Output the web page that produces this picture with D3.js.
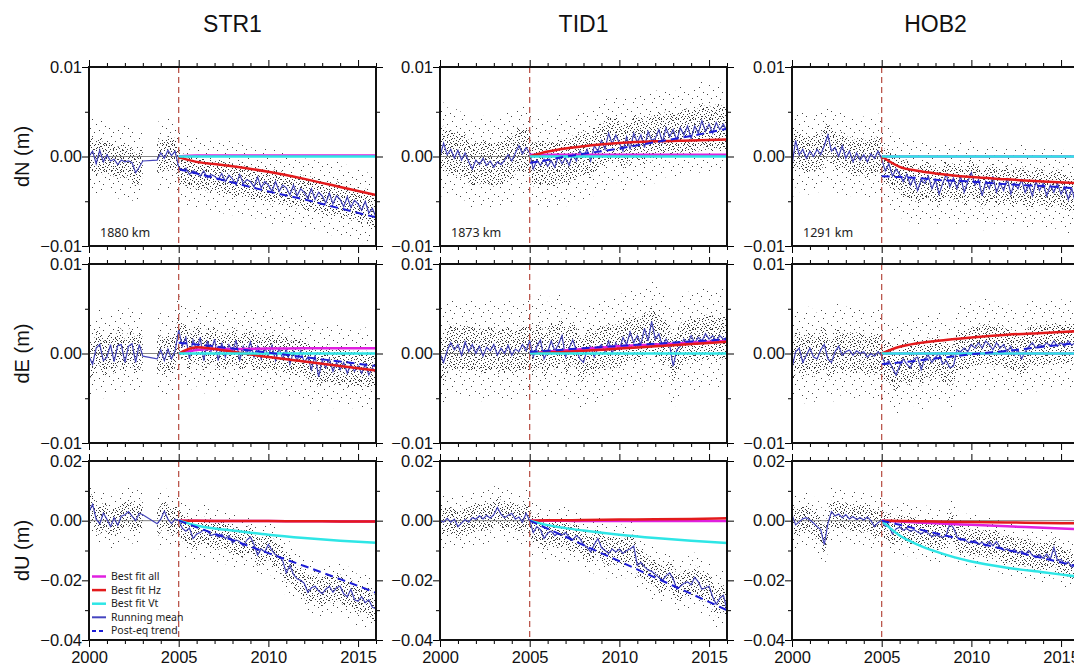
<!DOCTYPE html>
<html>
<head>
<meta charset="utf-8">
<script src="https://cdn.jsdelivr.net/npm/d3@7"></script>
<style>
body { margin: 0; background: #fff; }
svg { display: block; font-family: "Liberation Sans", Arial, sans-serif; }
</style>
</head>
<body>
<div id="chart"></div>
<script>
// ---- data (displacements in mm, shown in m) ----
const stations = ["STR1", "TID1", "HOB2"];
const components = ["dN (m)", "dE (m)", "dU (m)"];
const distances = ["1880 km", "1873 km", "1291 km"];
const yDomains = [[-10, 10], [-10, 10], [-40, 20]];
const yMajor = [[-10, 0, 10], [-10, 0, 10], [-40, -20, 0, 20]];
const yMinor = [[-5, 5], [-5, 5], [-30, -10, 10]];
const xMajor = [2000, 2005, 2010, 2015];
const xMinor = [2001, 2002, 2003, 2004, 2006, 2007, 2008, 2009, 2011, 2012, 2013, 2014, 2016];
const quakeYear = 2005;

const meanYears = [
  2000, 2000.2, 2000.4, 2000.6, 2000.8, 2001, 2001.2, 2001.4, 2001.6, 2001.8,
  2002, 2002.2, 2002.4, 2002.6, 2002.8, 2003, 2003.2, 2003.4, 2003.6, 2003.8,
  2004, 2004.2, 2004.4, 2004.6, 2004.8, 2005, 2005.2, 2005.4, 2005.6, 2005.8,
  2006, 2006.2, 2006.4, 2006.6, 2006.8, 2007, 2007.2, 2007.4, 2007.6, 2007.8,
  2008, 2008.2, 2008.4, 2008.6, 2008.8, 2009, 2009.2, 2009.4, 2009.6, 2009.8,
  2010, 2010.2, 2010.4, 2010.6, 2010.8, 2011, 2011.2, 2011.4, 2011.6, 2011.8,
  2012, 2012.2, 2012.4, 2012.6, 2012.8, 2013, 2013.2, 2013.4, 2013.6, 2013.8,
  2014, 2014.2, 2014.4, 2014.6, 2014.8, 2015, 2015.2, 2015.4, 2015.6, 2015.8,
  2016];

// running means (null = no data)
const meanSTR1_dN = [
  0.0, 0.6, -0.8, 0.7, -0.6,   0.2, -0.5, -0.3, -0.9, -0.4,   -0.6, -0.5, -0.7, -1.8, -1.2,
  -0.5, null, null, null, -0.4,   0.4, -0.2, 0.7, 0.1, 0.6,   -1.2, -1.6, -1.3, -2.0, -1.6,
  -1.8, -2.2, -1.6, -2.4, -2.0,   -2.2, -2.6, -1.9, -2.8, -2.1,   -2.5, -3.2, -2.0, -3.0, -2.6,
  -2.8, -3.4, -2.3, -3.5, -2.8,   -3.2, -3.9, -2.8, -3.9, -3.2,   -3.5, -4.3, -3.2, -4.4, -3.6,
  -4.0, -4.7, -3.6, -4.8, -4.0,   -4.4, -5.2, -4.1, -5.3, -4.4,   -4.8, -5.6, -4.5, -5.7, -4.9,
  -5.3, -6.0, -5.0, -6.3, -5.8,   -6.8];
const meanSTR1_dE = [
  -0.3, -1.2, 0.6, 1.0, -0.8,   -0.4, 1.0, -0.9, 0.9, 1.0,   -1.0, 0.8, 1.1, -1.0, 1.0,
  -0.3, null, null, null, -0.6,   0.4, -0.8, 0.5, -0.6, 0.3,   2.6, 0.8, 1.8, -0.6, 1.5,
  0.4, 1.8, -0.8, 1.4, 0.2,   1.6, -0.8, 1.2, -0.4, 1.0,   0.2, 1.5, -0.8, 0.8, 0.0,
  1.3, -0.4, 0.8, -0.6, 0.6,   -0.2, 0.9, -0.8, 0.6, -0.6,   0.5, -1.2, 0.2, -0.8, 0.3,
  -1.0, -0.4, -1.8, -0.2, -2.6,   -0.8, -1.6, -0.6, -2.0, -1.0,   -1.8, -1.0, -2.2, -1.2, -2.0,
  -1.4, -2.2, -1.2, -2.4, -1.6,   -2.2];
const meanSTR1_dU = [
  3.0, 5.5, 0.5, -1.0, 2.5,   0.5, -2.0, 1.0, -1.5, 1.5,   2.0, 3.0, 1.5, 0.0, 2.5,
  2.0, null, null, null, -1.0,   0.5, 3.2, 0.5, -1.0, 0.5,   0.0, -2.5, -3.5, -2.5, -6.0,
  -4.5, -4.0, -3.0, -3.5, -5.0,   -4.5, -5.5, -4.5, -6.0, -5.0,   -7.5, -6.5, -7.0, -8.5, -6.5,
  -5.5, -8.0, -11.5, -9.5, -10.5,   -8.0, -10.0, -11.5, -12.0, -13.5,   -17.5, -15.0, -18.0, -19.5, -20.0,
  -21.0, -24.0, -22.5, -22.0, -23.5,   -24.5, -23.0, -22.0, -24.0, -22.5,   -22.0, -24.5, -25.5, -23.0, -26.5,
  -27.0, -25.5, -27.5, -26.5, -29.0,   -29.5];
const meanTID1_dN = [
  0.0, 1.5, 0.2, 0.8, -0.2,   0.7, -0.4, 0.4, -0.6, -1.4,   -0.4, -0.9, -0.2, -1.0, -0.5,
  -1.2, -0.6, -0.9, -0.4, 0.2,   -0.5, 0.4, 1.2, 0.3, 1.0,   0.4, -1.4, -0.4, -1.0, -0.3,
  -1.1, -0.5, -1.2, 0.0, -0.8,   -0.2, -1.0, 0.3, -0.5, 0.6,   0.0, 0.8, -0.5, 1.2, 0.6,
  1.8, 0.8, 2.6, 1.4, 2.4,   1.5, 0.6, 2.2, 0.8, 2.6,   1.6, 2.4, 1.0, 2.8, 1.8,
  2.0, 3.0, 1.6, 3.2, 2.2,   3.0, 1.8, 3.2, 2.4, 3.4,   2.0, 3.4, 2.6, 4.0, 2.8,
  3.6, 2.6, 3.8, 3.0, 3.6,   2.8];
const meanTID1_dE = [
  0.0, -1.0, 0.3, 1.2, 0.4,   1.0, -0.2, 1.3, 0.2, 1.0,   0.0, 0.8, -0.3, 0.7, 0.3,
  1.0, -0.2, 0.6, 0.0, 0.9,   -0.2, 0.5, 0.2, 1.0, 0.3,   1.4, -0.4, 0.8, 1.5, -0.6,
  0.2, 1.4, 0.3, 1.0, 2.0,   -0.4, 0.6, 1.5, 0.4, -0.6,   -1.0, 0.4, 0.8, -0.4, 0.6,
  1.0, 0.2, 1.4, 0.0, 1.2,   0.4, 1.8, 1.0, 2.4, 1.2,   2.0, 1.0, 2.8, 1.4, 3.6,
  1.6, 2.2, 0.8, 1.6, 1.0,   -1.4, 0.4, 0.8, 1.6, 1.0,   2.0, 1.2, 1.8, 1.4, 2.2,
  1.6, 2.0, 1.4, 2.0, 1.6,   1.8];
const meanTID1_dU = [
  0.0, -0.5, 0.8, -0.5, 0.5,   -2.0, -0.8, 0.4, -0.5, 1.0,   0.5, 1.6, 0.6, 1.8, 0.8,
  2.0, 4.4, 2.2, 1.0, 1.8,   2.5, 0.5, 1.2, -0.5, 2.5,   0.0, -4.0, -2.0, -3.0, -6.0,
  -4.2, -3.5, -5.0, -4.2, -4.8,   -4.0, -5.5, -6.5, -5.0, -6.0,   -8.0, -9.0, -10.5, -8.0, -6.0,
  -9.0, -10.0, -11.0, -9.5, -10.5,   -9.5, -11.0, -10.0, -9.5, -8.5,   -15.0, -14.0, -15.5, -16.5, -17.0,
  -18.0, -19.0, -20.0, -18.5, -17.5,   -19.5, -23.0, -22.0, -21.0, -20.5,   -21.5, -19.0, -20.5, -23.0, -22.5,
  -22.0, -25.5, -28.0, -26.0, -25.0,   -30.0];
const meanHOB2_dN = [
  -1.0, 1.8, 0.2, 0.8, -0.2,   0.6, 0.0, 0.8, 0.2, 1.2,   2.4, 0.6, 1.0, 0.0, 1.2,
  -0.2, 0.6, -0.6, 0.4, -0.4,   0.2, -0.6, 0.3, -0.2, 0.6,   -0.3, -1.6, -0.8, -2.2, -1.4,
  -2.0, -2.8, -2.0, -3.2, -2.4,   -3.8, -2.6, -3.0, -2.2, -3.6,   -2.6, -4.2, -3.0, -2.0, -3.4,
  -2.4, -3.6, -2.2, -4.0, -2.8,   -1.8, -3.2, -2.6, -4.4, -2.8,   -3.6, -2.2, -4.0, -3.0, -3.8,
  -2.4, -4.2, -3.0, -3.6, -2.6,   -4.0, -3.2, -4.4, -2.8, -3.8,   -3.0, -4.4, -3.2, -4.0, -3.0,
  -4.2, -3.4, -4.8, -3.6, -5.2,   -6.6];
const meanHOB2_dE = [
  -1.6, 0.2, 0.6, -1.0, -0.2,   0.6, -0.4, -0.6, 0.4, 1.0,   -0.6, -1.0, 0.2, 0.8, -0.2,
  0.2, 0.4, -0.2, 0.3, 0.0,   0.2, -0.4, 0.0, -0.3, 0.2,   -0.3, -1.2, -0.8, -1.6, -2.4,
  -1.4, -0.6, -1.2, -1.6, -0.6,   -0.4, -1.8, -0.6, -0.2, -1.0,   -0.4, 0.0, -1.2, -0.8, -1.6,
  -1.4, 0.4, 0.2, 0.6, 0.2,   1.0, 0.6, 1.2, 0.6, 1.4,   1.0, 0.4, 1.2, 0.6, 1.0,
  0.2, 0.8, -0.2, 0.4, -0.6,   0.2, 0.8, 1.2, 0.6, 1.0,   0.8, 1.2, 0.8, 1.4, 0.8,
  1.2, 0.8, 1.4, 0.9, 1.3,   1.2];
const meanHOB2_dU = [
  2.0, -1.4, -0.4, 0.6, 1.0,   0.2, -0.8, -2.0, -3.0, -8.0,   -1.0, 3.0, 1.6, 2.2, 1.0,
  2.0, 0.6, 1.4, 0.4, 1.0,   0.2, 1.2, 0.0, -2.0, -0.6,   0.0, -2.0, -1.6, -4.5, -2.8,
  -2.2, -3.2, -2.6, -3.6, -3.0,   -3.8, -4.4, -3.6, -4.2, -5.4,   -4.8, -5.2, -5.6, -4.8, -1.0,
  -2.4, -5.4, -6.6, -6.0, -7.2,   -7.4, -6.6, -8.0, -7.2, -8.6,   -7.0, -8.4, -7.0, -9.0, -10.0,
  -9.4, -10.4, -9.6, -11.0, -10.2,   -11.2, -10.0, -11.6, -12.4, -11.4,   -12.6, -11.2, -13.0, -9.0, -13.4,
  -13.0, -14.6, -13.8, -15.6, -15.0,   -16.6];
const runMean = [
  [meanSTR1_dN, meanTID1_dN, meanHOB2_dN],
  [meanSTR1_dE, meanTID1_dE, meanHOB2_dE],
  [meanSTR1_dU, meanTID1_dU, meanHOB2_dU]];

// half-width of the dense / sparse daily scatter around the running mean
const scatterInner = [[1.8, 2.4, 2.0], [2.0, 2.4, 2.2], [4.5, 4.5, 4.5]];
const scatterOuter = [[4.0, 5.0, 4.5], [4.5, 5.5, 5.0], [9.0, 9.0, 9.0]];

// fitted post-earthquake curves, rows dN/dE/dU, columns STR1/TID1/HOB2
const fitYears = [2005, 2006, 2007, 2008, 2010, 2012, 2014, 2016];
const fitAll = [
  [[0, 0.1, 0.1, 0.1, 0.1, 0.1, 0.1, 0.1], [0.2, 0.2, 0.2, 0.2, 0.2, 0.2, 0.2, 0.2], [0, 0, 0, 0, 0, 0, 0, 0]],
  [[0, 0.4, 0.5, 0.5, 0.55, 0.6, 0.6, 0.6], [0, 0.2, 0.35, 0.5, 0.8, 1.0, 1.2, 1.4], [0, 0, 0, 0, 0, 0, 0, 0]],
  [[0, -0.05, -0.1, -0.1, -0.15, -0.2, -0.25, -0.3], [0, -0.05, -0.05, -0.1, -0.1, -0.1, -0.1, -0.1], [0, -0.3, -0.6, -0.9, -1.4, -1.9, -2.4, -2.9]]];
const fitHz = [
  [[-0.1, -0.6, -0.85, -1.1, -1.7, -2.5, -3.4, -4.3], [0, 0.55, 0.9, 1.15, 1.5, 1.7, 1.8, 1.9], [0, -1.15, -1.6, -1.9, -2.3, -2.55, -2.8, -3.0]],
  [[0, 0.7, 0.5, 0.2, -0.4, -0.9, -1.4, -1.9], [0, 0.1, 0.2, 0.3, 0.55, 0.8, 1.05, 1.3], [0, 0.75, 1.15, 1.4, 1.8, 2.1, 2.3, 2.5]],
  [[0, -0.05, -0.1, -0.1, -0.15, -0.2, -0.25, -0.3], [0, 0.1, 0.15, 0.2, 0.35, 0.5, 0.6, 0.8], [0, -0.1, -0.2, -0.3, -0.45, -0.6, -0.75, -0.9]]];
const fitVt = [
  [[0, 0, 0, 0, 0, 0, 0, 0], [0, 0, 0, 0, 0, 0, 0, 0], [0, 0, 0, 0, 0, 0, 0, 0]],
  [[0, 0, 0, 0, 0, 0, 0, 0], [0, 0, 0, 0, 0, 0, 0, 0], [0, 0, 0, 0, 0, 0, 0, 0]],
  [[0, -1.6, -2.6, -3.3, -4.7, -5.8, -6.7, -7.4], [0, -1.5, -2.5, -3.3, -4.7, -5.8, -6.7, -7.5], [0, -5.0, -8.0, -10.3, -13.7, -15.8, -17.3, -18.8]]];
const fitTrend = [
  [[-1.4, -1.9, -2.4, -2.9, -3.9, -4.8, -5.8, -6.8], [-0.7, -0.4, 0.0, 0.3, 0.9, 1.6, 2.3, 3.1], [-2.2, -2.3, -2.4, -2.6, -2.8, -3.1, -3.3, -3.6]],
  [[1.2, 1.0, 0.8, 0.55, 0.1, -0.4, -0.9, -1.4], [0.2, 0.3, 0.45, 0.6, 0.85, 1.1, 1.35, 1.6], [-1.2, -1.0, -0.8, -0.55, -0.1, 0.3, 0.75, 1.2]],
  [[0, -2.2, -4.4, -6.5, -10.9, -15.2, -19.6, -24.2], [0, -2.7, -5.4, -8.2, -13.6, -19.1, -24.5, -30.0], [0, -1.4, -2.8, -4.2, -7.0, -9.8, -12.6, -15.4]]];

const legendNames = ["Best fit all", "Best fit Hz", "Best fit Vt", "Running mean", "Post-eq trend"];

// ---- layout ----
const width = 1074, height = 669;
const colX = [89, 440, 792];
const rowY = [67, 264, 461];
const pw = 287, ph = 179;

const cMagenta = "#e020e0", cRed = "#e31a1c", cCyan = "#2ee6e6";
const cMean = "#3232b4", cTrend = "#1c1cd6", cQuake = "#b5493f";

const svg = d3.select("#chart").append("svg")
    .attr("width", width)
    .attr("height", height);

const defs = svg.append("defs");
defs.append("clipPath").attr("id", "plotclip")
    .append("rect").attr("width", pw).attr("height", ph);

// speckle textures standing in for the daily solutions
const innerDots = [[0,0],[5,0],[11,1],[15,0],[2,2],[8,2],[13,3],[16,4],[4,4],[10,4],[0,5],[7,5],
    [14,6],[3,6],[11,7],[5,8],[9,8],[16,8],[1,9],[13,9],[7,10],[3,11],[11,11],[15,11],[0,12],
    [6,12],[9,12],[12,1],[7,3],[2,7],[10,10],[14,12]];
const outerDots = [[3,1],[12,3],[7,6],[16,8],[1,10],[10,12],[14,15],[5,14]];
function speckle(id, w, h, dots, fill) {
    const p = defs.append("pattern").attr("id", id)
        .attr("patternUnits", "userSpaceOnUse")
        .attr("width", w).attr("height", h);
    p.selectAll("rect").data(dots).join("rect")
        .attr("x", d => d[0]).attr("y", d => d[1])
        .attr("width", 1).attr("height", 1)
        .attr("fill", fill);
}
speckle("dotsInner", 17, 13, innerDots, "#3a3a3a");
speckle("dotsOuter", 19, 17, outerDots, "#444");

const mmFormat = v => d3.format(".2f")(v / 1000);

function addTicks(g, axis, values, size, fmt, tx, ty, pad) {
    const a = g.append("g")
        .attr("transform", `translate(${tx},${ty})`)
        .call(axis.tickValues(values).tickSize(size).tickSizeOuter(0)
            .tickPadding(pad == null ? 3 : pad).tickFormat(fmt || ""));
    a.select(".domain").remove();
    a.attr("font-family", null).attr("font-size", null);
    a.selectAll("line").attr("stroke", "#000").attr("stroke-width", 1);
    a.selectAll("text").attr("font-size", 16.5).attr("fill", "#111");
    return a;
}

components.forEach((comp, r) => {
    stations.forEach((st, c) => {
        const g = svg.append("g").attr("transform", `translate(${colX[c]},${rowY[r]})`);
        const x = d3.scaleLinear().domain([2000, 2016]).range([0, pw]);
        const y = d3.scaleLinear().domain(yDomains[r]).range([ph, 0]);
        const mean = meanYears.map((t, i) => ({t: t, v: runMean[r][c][i]}));
        const plot = g.append("g").attr("clip-path", "url(#plotclip)");

        // scatter envelopes
        [[scatterOuter[r][c], "url(#dotsOuter)"], [scatterInner[r][c], "url(#dotsInner)"]].forEach(([s, fill]) => {
            const band = d3.area()
                .defined(d => d.v != null)
                .x(d => x(d.t))
                .y0(d => y(d.v - s))
                .y1(d => y(d.v + s))
                .curve(d3.curveBasis);
            plot.append("path").attr("d", band(mean)).attr("fill", fill);
        });

        // zero line
        plot.append("line")
            .attr("x1", 0).attr("x2", pw)
            .attr("y1", y(0)).attr("y2", y(0))
            .attr("stroke", "#666").attr("stroke-width", 0.8);

        // running mean
        const meanLine = d3.line().x(d => x(d.t)).y(d => y(d.v));
        plot.append("path")
            .attr("d", meanLine(mean.filter(d => d.v != null)))
            .attr("fill", "none").attr("stroke", cMean)
            .attr("stroke-width", 1.2).attr("stroke-opacity", 0.9);

        // fits
        const fitLine = d3.line()
            .x((d, i) => x(fitYears[i]))
            .y(d => y(d))
            .curve(d3.curveMonotoneX);
        [[fitAll, cMagenta], [fitHz, cRed], [fitVt, cCyan]].forEach(([set, col]) => {
            plot.append("path")
                .attr("d", fitLine(set[r][c]))
                .attr("fill", "none").attr("stroke", col)
                .attr("stroke-width", 2.5);
        });
        plot.append("path")
            .attr("d", fitLine(fitTrend[r][c]))
            .attr("fill", "none").attr("stroke", cTrend)
            .attr("stroke-width", 2).attr("stroke-dasharray", "8,5");

        // earthquake date
        g.append("line")
            .attr("x1", x(quakeYear)).attr("x2", x(quakeYear))
            .attr("y1", 0).attr("y2", ph)
            .attr("stroke", cQuake).attr("stroke-width", 1.2)
            .attr("stroke-dasharray", "6,4");

        // ticks all round
        addTicks(g, d3.axisLeft(y), yMajor[r], 7, mmFormat, 0, 0, 0);
        addTicks(g, d3.axisLeft(y), yMinor[r], 4, null, 0, 0);
        addTicks(g, d3.axisRight(y), yMajor[r], 7, null, pw, 0);
        addTicks(g, d3.axisRight(y), yMinor[r], 4, null, pw, 0);
        addTicks(g, d3.axisTop(x), xMajor, 7, null, 0, 0);
        addTicks(g, d3.axisTop(x), xMinor, 4, null, 0, 0);
        addTicks(g, d3.axisBottom(x), xMajor, 7, r === 2 ? d3.format("d") : null, 0, ph, 4);
        addTicks(g, d3.axisBottom(x), xMinor, 4, null, 0, ph);

        // frame
        g.append("rect")
            .attr("width", pw).attr("height", ph)
            .attr("fill", "none").attr("stroke", "#111").attr("stroke-width", 2);

        if (r === 0) {
            g.append("text")
                .attr("x", pw / 2).attr("y", 32 - rowY[r])
                .attr("text-anchor", "middle")
                .attr("font-size", 23).attr("fill", "#111")
                .text(st);
            g.append("text")
                .attr("x", 11).attr("y", ph - 9)
                .attr("font-family", "'Noto Sans', sans-serif")
                .attr("font-size", 12.5).attr("fill", "#222")
                .text(distances[c]);
        }
        if (c === 0) {
            g.append("text")
                .attr("transform", `translate(${29 - colX[c]},${ph / 2}) rotate(-90)`)
                .attr("text-anchor", "middle")
                .attr("font-size", 20).attr("fill", "#111")
                .text(comp);
        }
        if (r === 2 && c === 0) {
            const styles = [
                {stroke: cMagenta, w: 2.5, dash: null},
                {stroke: cRed, w: 2.5, dash: null},
                {stroke: cCyan, w: 2.5, dash: null},
                {stroke: "#4545c0", w: 2, dash: null},
                {stroke: cTrend, w: 2, dash: "4,3"}];
            const leg = g.append("g").attr("transform", "translate(3,115.5)");
            const item = leg.selectAll("g").data(legendNames).join("g")
                .attr("transform", (d, i) => `translate(0,${i * 13.6})`);
            item.append("line")
                .attr("x1", 0).attr("x2", 14)
                .attr("stroke", (d, i) => styles[i].stroke)
                .attr("stroke-width", (d, i) => styles[i].w)
                .attr("stroke-dasharray", (d, i) => styles[i].dash);
            item.append("text")
                .attr("x", 19).attr("y", 3.5)
                .attr("font-family", "'Noto Sans', sans-serif")
                .attr("font-size", 10.5).attr("fill", "#222")
                .text(d => d);
        }
    });
});
</script>
</body>
</html>
